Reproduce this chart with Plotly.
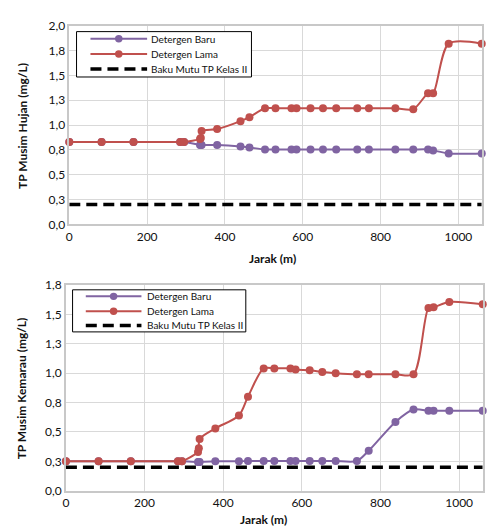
import plotly.graph_objects as go

# ---- data ----
jarak = [0, 83, 165, 285, 295, 336, 338, 340, 380, 440, 463, 503, 530, 571, 584,
         620, 652, 686, 740, 770, 838, 884, 922, 935, 975, 1060]

hujan_baru = [0.83, 0.83, 0.83, 0.83, 0.83, 0.80, 0.80, 0.80, 0.80, 0.785, 0.775, 0.755, 0.755,
              0.755, 0.755, 0.755, 0.755, 0.755, 0.755, 0.755, 0.755, 0.755, 0.755, 0.745, 0.715, 0.715]
hujan_lama = [0.83, 0.83, 0.83, 0.83, 0.83, 0.86, 0.87, 0.94, 0.96, 1.04, 1.08, 1.17, 1.17,
              1.17, 1.17, 1.17, 1.17, 1.17, 1.17, 1.17, 1.17, 1.16, 1.32, 1.32, 1.82, 1.82]

kemarau_baru = [0.25, 0.25, 0.25, 0.25, 0.25, 0.245, 0.245, 0.245, 0.25, 0.25, 0.253, 0.253, 0.253,
                0.253, 0.253, 0.253, 0.253, 0.253, 0.253, 0.34, 0.585, 0.69, 0.68, 0.68, 0.68, 0.68]
kemarau_lama = [0.25, 0.25, 0.25, 0.25, 0.25, 0.33, 0.36, 0.44, 0.53, 0.64, 0.80, 1.04, 1.04,
                1.04, 1.03, 1.025, 1.01, 1.00, 0.99, 0.99, 0.99, 0.99, 1.555, 1.56, 1.605, 1.585]

baku_x = [0, 1060]
baku_y = [0.2, 0.2]

series_names = ["Detergen Baru", "Detergen Lama", "Baku Mutu TP Kelas II"]

x_ticks = [0, 200, 400, 600, 800, 1000]
y_top_ticks = [0, 0.25, 0.5, 0.75, 1.0, 1.25, 1.5, 1.75, 2.0]
y_top_text = ["0,0", "0,3", "0,5", "0,8", "1,0", "1,3", "1,5", "1,8", "2,0"]
y_bot_ticks = [0, 0.25, 0.5, 0.75, 1.0, 1.25, 1.5, 1.75]
y_bot_text = ["0,0", "0,3", "0,5", "0,8", "1,0", "1,3", "1,5", "1,8"]

PURPLE = "#8064A2"
RED = "#C0504D"
FONT = "Lato"
W, H = 488, 532
DASH = "11px,6px"

fig = go.Figure()

def add_series(xa, ya, baru, lama):
    fig.add_trace(go.Scatter(x=jarak, y=baru, xaxis=xa, yaxis=ya, mode="lines+markers",
                             name=series_names[0],
                             line=dict(color=PURPLE, width=2, shape="spline", smoothing=0.8),
                             marker=dict(color=PURPLE, size=8), cliponaxis=False))
    fig.add_trace(go.Scatter(x=jarak, y=lama, xaxis=xa, yaxis=ya, mode="lines+markers",
                             name=series_names[1],
                             line=dict(color=RED, width=2, shape="spline", smoothing=0.8),
                             marker=dict(color=RED, size=8), cliponaxis=False))
    fig.add_trace(go.Scatter(x=baku_x, y=baku_y, xaxis=xa, yaxis=ya, mode="lines",
                             name=series_names[2],
                             line=dict(color="black", width=3.5, dash=DASH)))

add_series("x", "y", hujan_baru, hujan_lama)
add_series("x2", "y2", kemarau_baru, kemarau_lama)

axis_common = dict(showgrid=True, gridcolor="#D9D9D9", gridwidth=1, showline=True,
                   linecolor="#C8C8C8", linewidth=1.5, mirror=True, zeroline=False,
                   ticks="", tickfont=dict(family=FONT, size=12, color="#111"))

fig.update_layout(
    width=W, height=H, margin=dict(l=0, r=0, t=0, b=0),
    paper_bgcolor="white", plot_bgcolor="white", font=dict(family=FONT),
    showlegend=False,
    xaxis=dict(domain=[66.7 / W, 481.7 / W], anchor="y", range=[0, 1060],
               tickvals=x_ticks, **axis_common),
    yaxis=dict(domain=[1 - 222.7 / H, 1 - 18.3 / H], anchor="x", range=[0, 2.0],
               tickvals=y_top_ticks, ticktext=y_top_text, **axis_common),
    xaxis2=dict(domain=[63.3 / W, 482.7 / W], anchor="y2", range=[0, 1060],
                tickvals=x_ticks, **axis_common),
    yaxis2=dict(domain=[1 - 496.7 / H, 1 - 285 / H], anchor="x2", range=[0, 1.75],
                tickvals=y_bot_ticks, ticktext=y_bot_text, **axis_common),
)

# ---- hand-drawn legends (pixel positions converted to paper coords) ----
def px(xp):
    return xp / W

def py(yp):
    return 1 - yp / H

def legend_box(x0, x1, y0, y1, rows, line_x0, line_x1, text_x):
    fig.add_shape(type="rect", xref="paper", yref="paper", x0=px(x0), x1=px(x1),
                  y0=py(y0), y1=py(y1), line=dict(color="black", width=1), fillcolor="white",
                  layer="above")
    styles = [(PURPLE, 2, "solid", True), (RED, 2, "solid", True), ("black", 3.5, DASH, False)]
    mid = (line_x0 + line_x1) / 2
    for name, yr, (col, wdt, dash, mk) in zip(series_names, rows, styles):
        fig.add_shape(type="line", xref="paper", yref="paper", x0=px(line_x0), x1=px(line_x1),
                      y0=py(yr), y1=py(yr), line=dict(color=col, width=wdt, dash=dash),
                      layer="above")
        if mk:
            r = 3.8
            fig.add_shape(type="circle", xref="paper", yref="paper",
                          x0=px(mid - r), x1=px(mid + r), y0=py(yr + r), y1=py(yr - r),
                          line=dict(color=col, width=0), fillcolor=col, layer="above")
        fig.add_annotation(text=name, xref="paper", yref="paper", x=px(text_x), y=py(yr),
                           xanchor="left", yanchor="middle", showarrow=False,
                           font=dict(family=FONT, size=10, color="#111"))

legend_box(74, 250, 24.3, 71, [31.7, 47.3, 62.7], 88, 145, 147)
legend_box(70, 244.3, 290, 333.3, [296.7, 312, 326.7], 83.3, 139.3, 143)

ann_font = dict(family=FONT, size=12, color="#111")
fig.add_annotation(text="<b>Jarak (m)</b>", xref="paper", yref="paper",
                   x=px(271), y=py(258), xanchor="center", yanchor="middle",
                   showarrow=False, font=ann_font)
fig.add_annotation(text="<b>Jarak (m)</b>", xref="paper", yref="paper",
                   x=px(262), y=py(526), xanchor="center", yanchor="middle",
                   showarrow=False, font=ann_font)
fig.add_annotation(text="<b>TP Musim Hujan (mg/L)</b>", xref="paper", yref="paper",
                   x=px(19), y=py(121.5), xanchor="center", yanchor="middle",
                   showarrow=False, textangle=-90, font=ann_font)
fig.add_annotation(text="<b>TP Musim Kemarau (mg/L)</b>", xref="paper", yref="paper",
                   x=px(19), y=py(391.5), xanchor="center", yanchor="middle",
                   showarrow=False, textangle=-90, font=ann_font)

fig.write_html("out.html", config={"displayModeBar": False},
               post_script="document.body.style.margin='0px';document.body.style.overflow='hidden';")
